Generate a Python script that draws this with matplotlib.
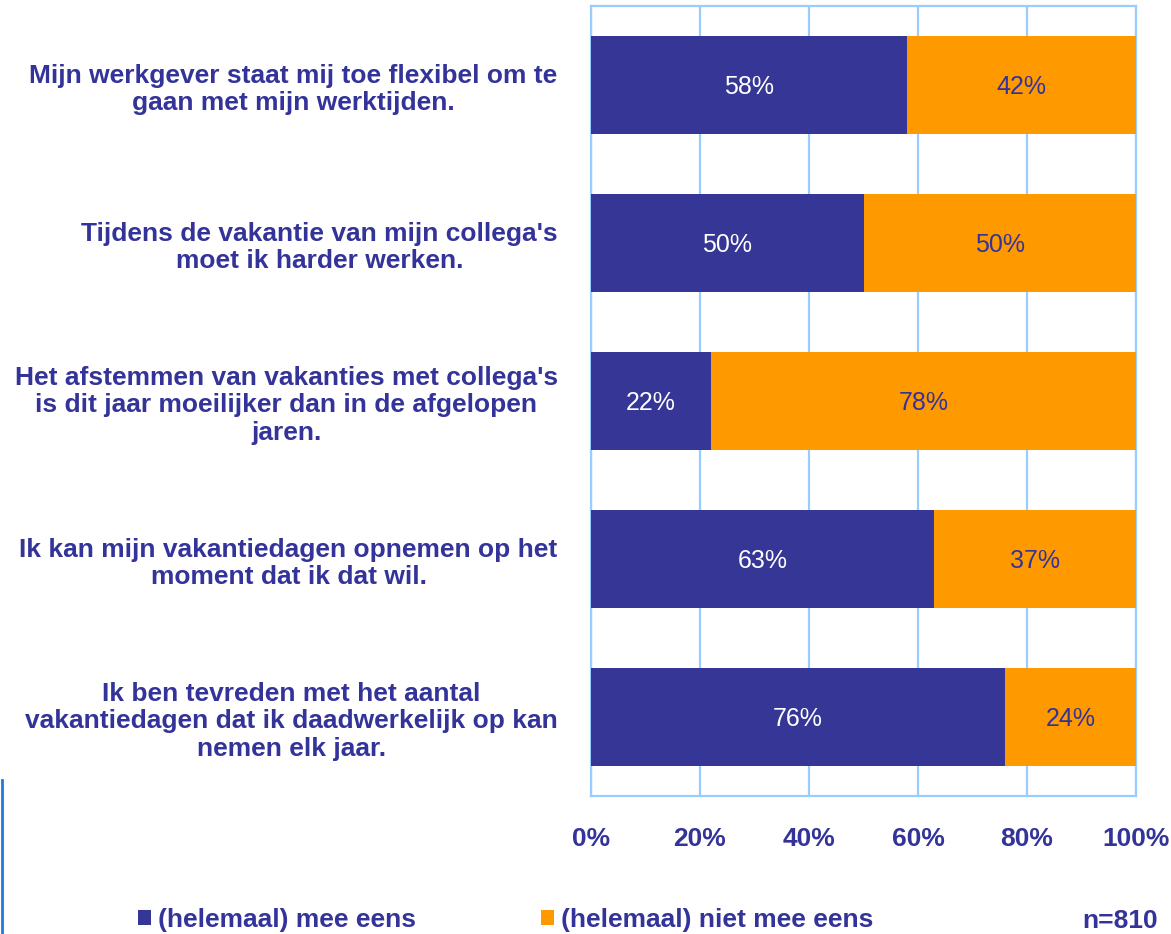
import numpy as np
import matplotlib
matplotlib.use('Agg')
import matplotlib.pyplot as plt
from matplotlib.lines import Line2D

plt.rcParams['font.family'] = ['Liberation Sans', 'DejaVu Sans']

categories = [
    "Mijn werkgever staat mij toe flexibel om te\ngaan met mijn werktijden.",
    "Tijdens de vakantie van mijn collega's\nmoet ik harder werken.",
    "Het afstemmen van vakanties met collega's\nis dit jaar moeilijker dan in de afgelopen\njaren.",
    "Ik kan mijn vakantiedagen opnemen op het\nmoment dat ik dat wil.",
    "Ik ben tevreden met het aantal\nvakantiedagen dat ik daadwerkelijk op kan\nnemen elk jaar.",
]
eens = [58, 50, 22, 63, 76]
niet_eens = [42, 50, 78, 37, 24]
series_names = ["(helemaal) mee eens", "(helemaal) niet mee eens"]
xticks = [0, 20, 40, 60, 80, 100]

navy = '#363696'
orange = '#FF9900'
textcol = '#333399'
gridcol = '#99CCFF'

fig = plt.figure(figsize=(11.71, 9.34), dpi=100)
ax = fig.add_axes([591/1171, 138/934, 545/1171, 790/934])

y = np.arange(len(categories))
b1 = ax.barh(y, eens, height=0.62, color=navy, zorder=3)
b2 = ax.barh(y, niet_eens, left=eens, height=0.62, color=orange, zorder=3)

for i in range(len(categories)):
    ax.text(eens[i]/2, y[i], f"{eens[i]}%", ha='center', va='center_baseline',
            color='white', fontsize=18, zorder=4)
    ax.text(eens[i] + niet_eens[i]/2, y[i], f"{niet_eens[i]}%", ha='center',
            va='center_baseline', color=textcol, fontsize=18, zorder=4)

ax.set_xlim(0, 100)
ax.set_ylim(len(categories) - 0.5, -0.5)
ax.set_xticks(xticks)
ax.set_xticklabels([f"{t}%" for t in xticks], fontsize=19, fontweight='bold', color=textcol)
ax.set_yticks(y)
ax.set_yticklabels(categories, fontsize=19, fontweight='bold', color=textcol,
                   multialignment='center', linespacing=1.2)
ax.tick_params(axis='both', length=0)
ax.tick_params(axis='x', pad=22)
ax.tick_params(axis='y', pad=24)
ax.xaxis.grid(True, color=gridcol, linewidth=1.6, zorder=0)
for s in ax.spines.values():
    s.set_color(gridcol)
    s.set_linewidth(1.6)

fig.legend([b1, b2], series_names, loc='center left', bbox_to_anchor=(138/1171, 1 - 920/934),
           ncol=2, frameon=False, handlelength=0.5, handleheight=0.5, handletextpad=0.25,
           columnspacing=4.75, borderaxespad=0, borderpad=0,
           prop={'size': 19, 'weight': 'bold'}, labelcolor=textcol)

fig.text(1120/1171, 1 - 921/934, "n=810", ha='center', va='center', fontsize=19,
         fontweight='bold', color=textcol)

fig.add_artist(Line2D([1.5/1171, 1.5/1171], [0, 1 - 780/934], color='#1E7BDC', linewidth=2))

fig.savefig('out.png', dpi=100)
